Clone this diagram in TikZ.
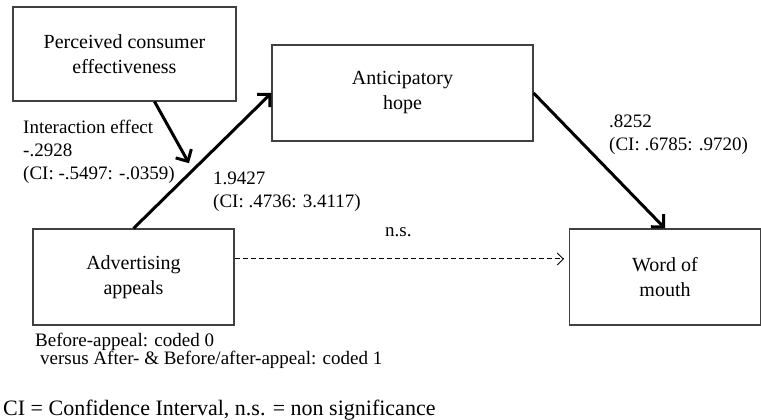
\documentclass[tikz,border=0pt]{standalone}
\usepackage{fontspec}
\setmainfont{Liberation Serif}
\usetikzlibrary{positioning,arrows.meta,calc}

\begin{document}
\begin{tikzpicture}[x=1pt,y=1pt,on grid,
    box/.style={draw=black!75,line width=1.1pt,minimum height=96pt,align=center,
      font=\fontsize{20}{25}\selectfont},
    coef/.style={anchor=north west,align=left,inner sep=0pt,
      font=\fontsize{19}{23}\selectfont},
    effect/.style={line width=3pt,-{Straight Barb[length=9pt,width=18pt]}},
    nsline/.style={dash pattern=on 5pt off 3pt,line width=1pt,-{Straight Barb[length=6pt,width=12pt]}}]
  \useasboundingbox (0,0) rectangle (761,420);

  \node [box, minimum width=201pt] (adv) at (133.5,143) {Advertising\\appeals};
  \node [box, minimum width=191pt, right=531.5pt of adv] (wom) {Word of\\mouth};
  \node [box, minimum width=261pt, above right=184pt and 269pt of adv] (hope) {Anticipatory\\hope};
  \node [box, minimum width=223pt, minimum height=94pt, above left=223pt and 9pt of adv] (pce)
        {Perceived consumer\\effectiveness};

  \coordinate (mod) at ($(adv.north)!0.43!(hope.west)$);

  \draw[effect] (adv.north) -- (hope.west);
  \draw[effect] (hope.east) -- (wom.north);
  \draw[effect, shorten >=8pt] ([xshift=30pt]pce.south) -- (mod);
  \draw[nsline, shorten >=5pt] ([yshift=18pt]adv.east) -- node[above=18pt, pos=0.49,
        font=\fontsize{19}{23}\selectfont] (ns) {n.s.} ([yshift=18pt]wom.west);

  % path coefficients
  \node [coef] (inter) at (23,300) {Interaction effect\\-.2928\\(CI: -.5497: -.0359)};
  \node [coef] (coefa) at (213,248) {1.9427\\(CI: .4736: 3.4117)};
  \node [coef] (coefb) at (609,305) {.8252\\(CI: .6785: .9720)};

  \node [coef, font=\fontsize{19}{18}\selectfont] (coding) at (35,87)
        {Before-appeal: coded 0\\\hspace*{5pt}versus After- \& Before/after-appeal: coded 1};
  \node [coef, font=\fontsize{22}{26}\selectfont] (note) at (3,20)
        {CI = Confidence Interval, n.s. = non significance};
\end{tikzpicture}
\end{document}
